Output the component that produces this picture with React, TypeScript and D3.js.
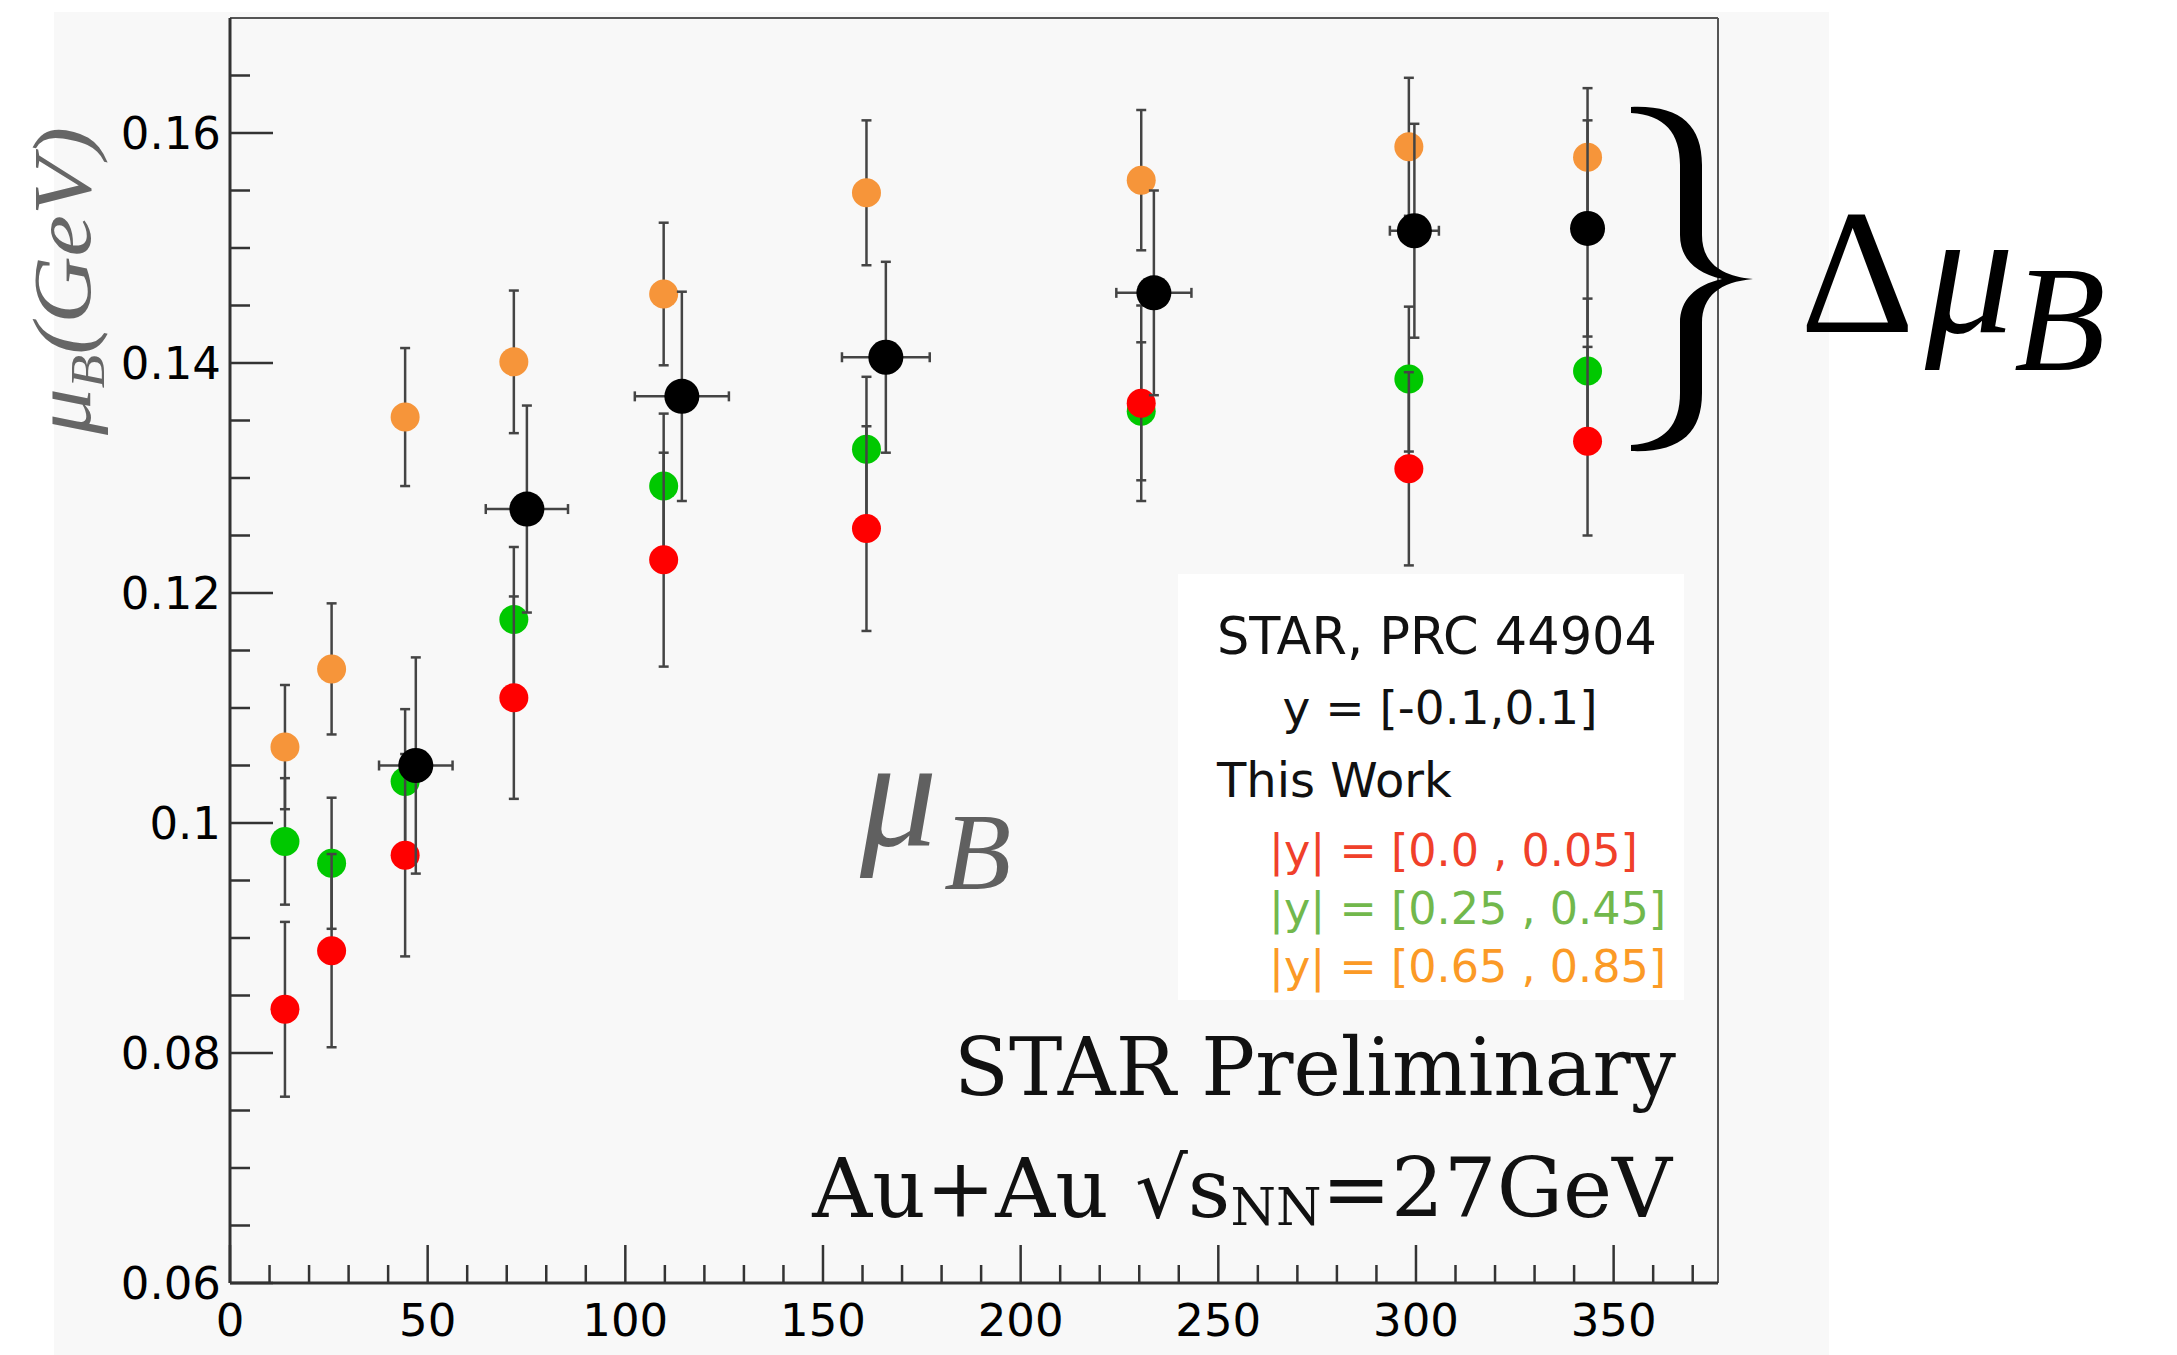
import * as d3 from "d3"

// centrality bins (Npart) for this work, |y| slices
const npart = [13.9, 25.7, 44.3, 71.8, 109.7, 161.0, 230.5, 298.2, 343.4]
const muRed = [0.0838, 0.0889, 0.0972, 0.1109, 0.1229, 0.1256, 0.1365, 0.1308, 0.1332]
const errRed = [0.0076, 0.0084, 0.0088, 0.0088, 0.0093, 0.0089, 0.0085, 0.0084, 0.0082]
const muGreen = [0.0984, 0.0965, 0.1036, 0.1177, 0.1293, 0.1325, 0.1358, 0.1386, 0.1393]
const errGreen = [0.0055, 0.0057, 0.0063, 0.0063, 0.0063, 0.0063, 0.006, 0.0063, 0.0063]
const muOrange = [0.1066, 0.1134, 0.1353, 0.1401, 0.146, 0.1548, 0.1559, 0.1588, 0.1579]
const errOrange = [0.0054, 0.0057, 0.006, 0.0062, 0.0062, 0.0063, 0.0061, 0.006, 0.006]

// STAR PRC 44904 points
const npartStar = [47.0, 75.1, 114.3, 165.9, 233.7, 299.6, 343.4]
const npartStarErr = [9.3, 10.4, 11.9, 11.1, 9.5, 6.2, 2.5]
const muStar = [0.105, 0.1273, 0.1371, 0.1405, 0.1461, 0.1515, 0.1517]
const errStar = [0.0094, 0.009, 0.0091, 0.0083, 0.0089, 0.0093, 0.0094]

const xTicks = [0, 50, 100, 150, 200, 250, 300, 350]
const xTickLabels = ["0", "50", "100", "150", "200", "250", "300", "350"]
const yTicks = [0.06, 0.08, 0.1, 0.12, 0.14, 0.16]
const yTickLabels = ["0.06", "0.08", "0.1", "0.12", "0.14", "0.16"]

const legendLines = ["|y| = [0.0 , 0.05]", "|y| = [0.25 , 0.45]", "|y| = [0.65 , 0.85]"]
const legendColors = ["#f0402a", "#72b84c", "#fb9a26"]

const W = 2177
const H = 1355
const sans = "'DejaVu Sans', sans-serif"
const serif = "'Liberation Serif', serif"

interface Series { x: number[]; y: number[]; ey: number[]; ex?: number[]; color: string; r: number }

const series: Series[] = [
  { x: npart, y: muOrange, ey: errOrange, color: "#f6953a", r: 14.5 },
  { x: npart, y: muGreen, ey: errGreen, color: "#00c800", r: 14.5 },
  { x: npart, y: muRed, ey: errRed, color: "#ff0000", r: 14.5 },
  { x: npartStar, y: muStar, ey: errStar, ex: npartStarErr, color: "#000000", r: 17.5 },
]

export default function App() {
  const x = d3.scaleLinear().domain([0, 376.4]).range([230, 1718])
  const y = d3.scaleLinear().domain([0.06, 0.17]).range([1283, 18])
  const [x0, x1] = x.range()
  const [y0, y1] = y.range()

  const xMinor = d3.range(10, 376, 10).filter(v => v % 50 !== 0)
  const yMinor = d3.range(0.065, 0.1699, 0.005).filter(v => Math.abs(v / 0.02 - Math.round(v / 0.02)) > 0.01)

  const cap = 5
  const barColor = "#444"

  return (
    <svg width={W} height={H} style={{ position: "absolute", left: 0, top: 0, background: "#fff" }}>
      <rect x={54} y={12} width={1775} height={H - 12} fill="#f8f8f8" />

      {/* legend box */}
      <rect x={1178} y={574} width={506} height={426} fill="#ffffff" />
      <g fontFamily={sans} fill="#111">
        <text x={1437} y={654} fontSize={51} textAnchor="middle">STAR, PRC 44904</text>
        <text x={1440} y={724} fontSize={47} textAnchor="middle">y = [-0.1,0.1]</text>
        <text x={1217} y={797} fontSize={48}>This Work</text>
        {legendLines.map((t, i) => (
          <text key={t} x={1269} y={866 + i * 58} fontSize={44.5} fill={legendColors[i]}>{t}</text>
        ))}
      </g>

      {/* data */}
      {series.map((s, si) => (
        <g key={si}>
          {s.x.map((xv, i) => {
            const cx = x(xv)
            const top = y(s.y[i] + s.ey[i])
            const bot = y(s.y[i] - s.ey[i])
            return (
              <g key={i} stroke={barColor} strokeWidth={2.5}>
                <line x1={cx} x2={cx} y1={top} y2={bot} />
                <line x1={cx - cap} x2={cx + cap} y1={top} y2={top} />
                <line x1={cx - cap} x2={cx + cap} y1={bot} y2={bot} />
                {s.ex && (
                  <>
                    <line x1={x(xv - s.ex[i])} x2={x(xv + s.ex[i])} y1={y(s.y[i])} y2={y(s.y[i])} />
                    <line x1={x(xv - s.ex[i])} x2={x(xv - s.ex[i])} y1={y(s.y[i]) - cap} y2={y(s.y[i]) + cap} />
                    <line x1={x(xv + s.ex[i])} x2={x(xv + s.ex[i])} y1={y(s.y[i]) - cap} y2={y(s.y[i]) + cap} />
                  </>
                )}
              </g>
            )
          })}
          {s.x.map((xv, i) => (
            <circle key={"c" + i} cx={x(xv)} cy={y(s.y[i])} r={s.r} fill={s.color} />
          ))}
        </g>
      ))}

      {/* frame */}
      <line x1={x0} x2={x1} y1={y1} y2={y1} stroke="#555" strokeWidth={2} />
      <line x1={x1} x2={x1} y1={y1} y2={y0} stroke="#555" strokeWidth={2} />
      <line x1={x0} x2={x1} y1={y0} y2={y0} stroke="#333" strokeWidth={3} />
      <line x1={x0} x2={x0} y1={y1} y2={y0} stroke="#333" strokeWidth={3} />

      {/* ticks */}
      <g stroke="#333" strokeWidth={2.5}>
        {xTicks.map(t => <line key={t} x1={x(t)} x2={x(t)} y1={y0} y2={y0 - 38} />)}
        {xMinor.map(t => <line key={"m" + t} x1={x(t)} x2={x(t)} y1={y0} y2={y0 - 18} />)}
        {yTicks.map(t => <line key={t} x1={x0} x2={x0 + 43} y1={y(t)} y2={y(t)} />)}
        {yMinor.map(t => <line key={"m" + t} x1={x0} x2={x0 + 20} y1={y(t)} y2={y(t)} />)}
      </g>
      <g fontFamily={sans} fontSize={45} fill="#000">
        {xTicks.map((t, i) => (
          <text key={t} x={x(t)} y={1336} textAnchor="middle">{xTickLabels[i]}</text>
        ))}
        {yTicks.map((t, i) => (
          <text key={t} x={221} y={y(t)} dy="0.36em" textAnchor="end">{yTickLabels[i]}</text>
        ))}
      </g>

      {/* y axis title */}
      <text transform="translate(90,281) rotate(-90)" textAnchor="middle" fontFamily={serif}
        fontStyle="italic" fontSize={82} fill="#666" textLength={308} lengthAdjust="spacingAndGlyphs">
        μ<tspan fontSize={48} dy={14}>B</tspan><tspan dy={-14}>(GeV)</tspan>
      </text>

      {/* in-plot labels */}
      <g fontFamily={serif} fontStyle="italic" fill="#606060">
        <text x={860} y={845} fontSize={154}>μ</text>
        <text x={944} y={889} fontSize={110}>B</text>
      </g>
      <g fontFamily="'DejaVu Serif', serif" fill="#111">
        <text x={1676} y={1095} fontSize={80} textAnchor="end">STAR Preliminary</text>
        <text x={1672} y={1217} fontSize={83} textAnchor="end">
          Au+Au √s<tspan fontSize={52} dy={8}>NN</tspan><tspan dy={-8}>=27GeV</tspan>
        </text>
      </g>

      {/* brace and Δμ_B */}
      <path
        d="M1631,107 C1680,105 1702,125 1702,165 L1702,235 C1702,262 1720,276 1753,279 C1720,282 1702,296 1702,323 L1702,393 C1702,433 1680,453 1631,451 L1631,445 C1665,443 1680,425 1680,393 L1680,323 C1680,300 1695,285 1722,279 C1695,273 1680,258 1680,235 L1680,165 C1680,133 1665,115 1631,113 Z"
        fill="#000"
      />
      <g fontFamily={serif} fill="#000">
        <text x={1800} y={332} fontSize={178}>Δ</text>
        <text x={1925} y={332} fontSize={178} fontStyle="italic">μ</text>
        <text x={2014} y={370} fontSize={150} fontStyle="italic">B</text>
      </g>
    </svg>
  )
}
